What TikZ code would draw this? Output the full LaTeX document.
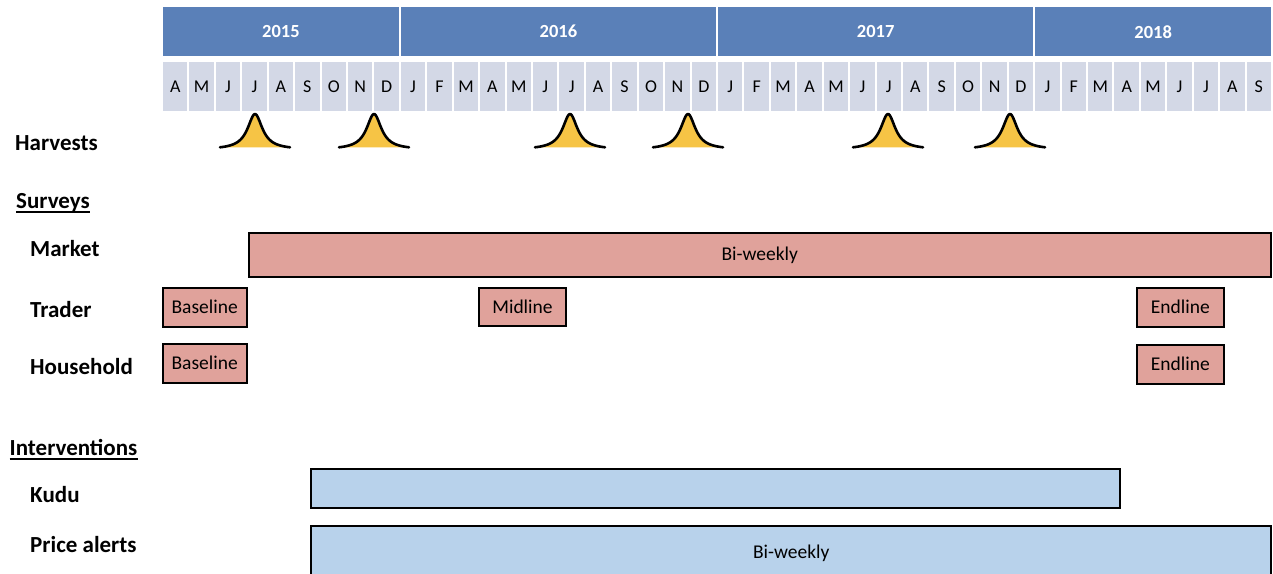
\documentclass[tikz,border=0pt]{standalone}
\usepackage{fontspec}
\setmainfont{Carlito}
\definecolor{yearblue}{HTML}{5A80B8}
\definecolor{monthgray}{HTML}{D3D8E6}
\definecolor{salmon}{HTML}{E0A29B}
\definecolor{lightblue}{HTML}{B8D2EB}
\definecolor{harvestyellow}{HTML}{F6C445}
\begin{document}
\begin{tikzpicture}[x=1pt,y=-1pt,
  yearcell/.style={fill=yearblue, inner sep=0pt, minimum height=48.7pt, text=white,
    font=\fontsize{18.5}{18.5}\selectfont\bfseries},
  monthcell/.style={fill=monthgray, inner sep=0pt, minimum width=24.43pt, minimum height=48.7pt,
    font=\fontsize{18}{18}\selectfont},
  rowlabel/.style={anchor=base west, inner sep=0pt, font=\fontsize{23}{23}\selectfont\bfseries},
  ulineseg/.style={line width=1.8pt},
  survbox/.style={draw, line width=2pt, fill=salmon, inner sep=0pt, text depth=1pt,
    font=\fontsize{19.5}{19.5}\selectfont},
  intbox/.style={draw, line width=2pt, fill=lightblue, inner sep=0pt, text depth=1pt,
    font=\fontsize{19.5}{19.5}\selectfont},
  harvestfill/.style={fill=harvestyellow},
  harvestline/.style={draw=black, line width=2.6pt, line cap=round, line join=round}
]
\useasboundingbox (0,0) rectangle (1273,573);
\clip (0,0) rectangle (1273,573);
\def\W{26.43}
% years
\foreach \s/\n/\yr in {0/9/2015, 9/12/2016, 21/12/2017, 33/9/2018}
  \node[yearcell, minimum width={(\n*\W-2)*1pt}] (y\yr) at ({163+(\s+\n/2)*\W-1}, 31.7) {\yr};
% months
\foreach \m [count=\i from 0] in {A,M,J,J,A,S,O,N,D,J,F,M,A,M,J,J,A,S,O,N,D,J,F,M,A,M,J,J,A,S,O,N,D,J,F,M,A,M,J,J,A,S}
  \node[monthcell] (m\i) at ({163+(\i+0.5)*\W-1}, 86.4) {\m};
% harvest bumps
\foreach \p in {255, 374, 570, 688, 888, 1010}{
  \fill[harvestfill] plot[domain=-35:35, samples=70] ({\p+\x}, {149.5-35.5/(1+(\x/9)^2)}) -- cycle;
  \draw[harvestline] plot[domain=-35:35, samples=70] ({\p+\x}, {149.5-35.5/(1+(\x/9)^2)});
}
% labels
\node[rowlabel] (harvests) at (15,150.7) {Harvests};
\node[rowlabel] (surveys) at (16,208.3) {Surveys};
\draw[ulineseg] ([yshift=-4pt]surveys.base west) -- ([yshift=-4pt]surveys.base east);
\node[rowlabel] (market) at (30,256) {Market};
\node[rowlabel] (trader) at (30,317.3) {Trader};
\node[rowlabel] (household) at (30,374) {Household};
\node[rowlabel] (interventions) at (9.5,455) {Interventions};
\draw[ulineseg] ([yshift=-4.3pt]interventions.base west) -- ([yshift=-4.3pt]interventions.base east);
\node[rowlabel] (kudu) at (30,502.3) {Kudu};
\node[rowlabel] (pricealerts) at (30,552.7) {Price alerts};
% survey boxes
\node[survbox, minimum width=1022pt, minimum height=44pt] (marketbox) at (759.7,254.7) {Bi-weekly};
\node[survbox, minimum width=84pt, minimum height=39pt] (traderbase) at (204.7,307.2) {Baseline};
\node[survbox, minimum width=87.6pt, minimum height=38.6pt] (tradermid) at (522.5,307) {Midline};
\node[survbox, minimum width=87.3pt, minimum height=39pt] (traderend) at (1180.4,307) {Endline};
\node[survbox, minimum width=84pt, minimum height=38.7pt] (hhbase) at (204.7,363.7) {Baseline};
\node[survbox, minimum width=87.3pt, minimum height=38.4pt] (hhend) at (1180.4,364.5) {Endline};
% intervention boxes
\node[intbox, minimum width=808.7pt, minimum height=39pt] (kudubox) at (715.4,488.8) {};
\node[intbox, minimum width=960pt, minimum height=52pt] (pricebox) at (791.2,552) {Bi-weekly};
\end{tikzpicture}
\end{document}
